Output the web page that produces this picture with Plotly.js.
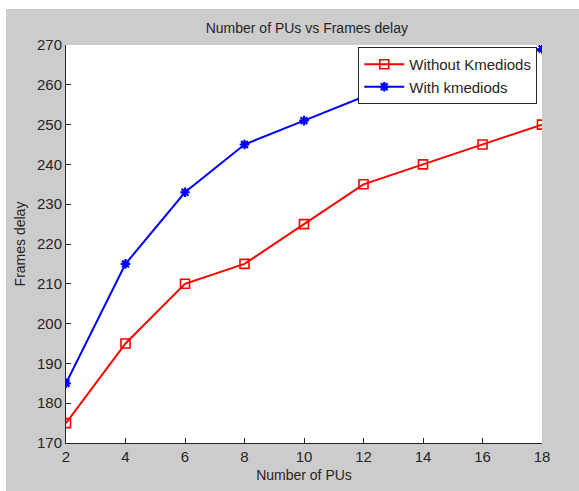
<!DOCTYPE html>
<html><head><meta charset="utf-8">
<script src="https://cdn.plot.ly/plotly-3.0.1.min.js"></script>
<style>
html,body{margin:0;padding:0;background:#fff;}
#chart{position:absolute;left:6px;top:9px;width:573px;height:482px;}
</style></head>
<body><div id="chart"></div>
<script>
const xPUs = [2, 4, 6, 8, 10, 12, 14, 16, 18];
const withoutKmedoids = [175, 195, 210, 215, 225, 235, 240, 245, 250];
const withKmedoids = [185, 215, 233, 245, 251, 257, 261, 265, 269];
const xTicks = [2, 4, 6, 8, 10, 12, 14, 16, 18];
const yTicks = [170, 180, 190, 200, 210, 220, 230, 240, 250, 260, 270];

const font = {family: 'Arial, "Liberation Sans", sans-serif', size: 15, color: '#262626'};

const traces = [
  {x: xPUs, y: withoutKmedoids, name: 'Without Kmediods', type: 'scatter', mode: 'lines+markers',
   line: {color: '#ff0000', width: 2},
   marker: {symbol: 'square-open', size: 9, color: '#ff0000', line: {width: 1.6, color: '#ff0000'}}},
  {x: xPUs, y: withKmedoids, name: 'With kmediods', type: 'scatter', mode: 'lines+markers',
   line: {color: '#0000ff', width: 2},
   marker: {symbol: 'asterisk-open', size: 8, color: '#0000ff', line: {width: 2.2, color: '#0000ff'}}}
];

const layout = {
  width: 573, height: 482,
  paper_bgcolor: '#cccccc', plot_bgcolor: '#ffffff',
  margin: {l: 60, r: 37, t: 36, b: 48},
  font: font,
  showlegend: true,
  title: {text: 'Number of PUs vs Frames delay', font: {family: font.family, size: 14, color: '#262626'}, x: 0.525, xanchor: 'center', y: 0.96, yanchor: 'middle'},
  xaxis: {range: [2, 18], tickvals: xTicks, ticktext: xTicks.map(String), showgrid: false, zeroline: false,
    showline: true, linecolor: '#262626', linewidth: 1, ticks: 'inside', ticklen: 5, tickcolor: '#262626',
    tickfont: {family: font.family, size: 15, color: '#262626'},
    title: {text: 'Number of PUs', font: {family: font.family, size: 14, color: '#262626'}, standoff: 6}},
  yaxis: {range: [170, 270], tickvals: yTicks, ticktext: yTicks.map(String), showgrid: false, zeroline: false,
    showline: true, linecolor: '#262626', linewidth: 1, ticks: 'inside', ticklen: 5, tickcolor: '#262626',
    tickfont: {family: font.family, size: 15, color: '#262626'},
    title: {text: 'Frames delay', font: {family: font.family, size: 14, color: '#262626'}, standoff: 8}},
  legend: {x: 0.99, xanchor: 'right', y: 0.995, yanchor: 'top', bgcolor: '#ffffff', bordercolor: '#262626', borderwidth: 1,
    font: {family: font.family, size: 15, color: '#262626'}, tracegroupgap: 0, itemwidth: 40}
};

Plotly.newPlot('chart', traces, layout, {displayModeBar: false, staticPlot: true});
</script></body></html>
